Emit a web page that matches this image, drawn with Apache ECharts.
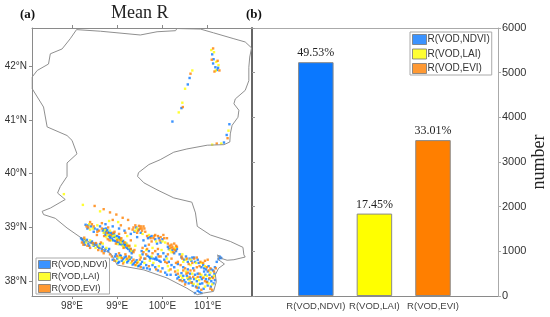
<!DOCTYPE html>
<html>
<head>
<meta charset="utf-8">
<script src="https://cdn.jsdelivr.net/npm/echarts@6/dist/echarts.min.js"></script>
<style>html,body{margin:0;padding:0;background:#fff}#c{width:550px;height:317px}</style>
</head>
<body>
<div id="c"></div>
<script>
const categories = ['R(VOD,NDVI)', 'R(VOD,LAI)', 'R(VOD,EVI)'];
const counts = [5235, 1845, 3490];
const percents = ['49.53%', '17.45%', '33.01%'];
const barColors = ['#0a78ff', '#ffff00', '#ff7f00'];
const lonTicks = [98, 99, 100, 101];
const latTicks = [38, 39, 40, 41, 42];
const numberTicks = [0, 1000, 2000, 3000, 4000, 5000, 6000];

const boundary = [[98.10,42.68],[98.63,42.65],[99.51,42.58],[99.88,42.64],[100.29,42.66],[100.32,42.70],[100.84,42.69],[101.13,42.62],[101.58,42.51],[101.83,42.45],[101.97,42.34],[101.93,42.17],[101.91,41.98],[101.91,41.73],[101.83,41.55],[101.61,41.39],[101.58,41.30],[101.69,41.18],[101.67,41.05],[101.54,40.90],[101.50,40.74],[101.49,40.59],[101.36,40.54],[100.99,40.53],[100.54,40.46],[100.25,40.40],[99.95,40.26],[99.70,40.17],[99.47,40.02],[99.45,39.95],[99.59,39.83],[99.88,39.70],[100.25,39.55],[100.65,39.47],[100.73,39.27],[100.77,39.02],[101.06,38.86],[101.50,38.74],[101.78,38.63],[101.80,38.49],[101.83,38.45],[101.58,38.40],[101.43,38.39],[101.32,38.42],[101.22,38.49],[101.24,38.40],[101.37,38.32],[101.24,38.24],[101.17,38.12],[101.19,37.99],[101.13,37.81],[100.91,37.78],[100.77,37.75],[100.54,37.87],[100.10,38.06],[99.59,38.21],[99.00,38.30],[98.92,38.43],[98.85,38.52],[98.55,38.65],[98.18,38.82],[97.89,38.99],[97.63,39.17],[97.37,39.24],[97.34,39.30],[97.52,39.36],[97.85,39.52],[97.68,39.64],[97.74,39.76],[97.89,39.95],[97.89,40.20],[98.11,40.37],[98.00,40.62],[97.89,40.71],[97.45,40.87],[97.37,41.24],[97.12,41.58],[97.12,41.80],[97.23,41.92],[97.48,42.04],[97.52,42.23],[97.78,42.32],[97.96,42.51],[98.10,42.68]];

const ndviCells = [[98.68,38.94],[98.72,38.90],[98.74,38.86],[98.78,38.95],[98.82,38.84],[98.86,38.90],[98.88,38.78],[98.93,38.88],[98.95,38.75],[99.00,38.84],[99.03,38.72],[99.06,38.79],[99.10,38.68],[99.13,38.75],[99.17,38.64],[99.20,38.70],[99.24,38.60],[99.28,38.56],[99.32,38.52],[98.80,38.89],[98.92,38.82],[99.05,38.69],[99.15,38.70],
[98.70,38.97],[98.75,38.93],[98.81,38.91],[98.84,38.81],[98.89,38.87],[98.91,38.76],[98.96,38.83],[99.01,38.79],[99.04,38.82],[99.07,38.70],[99.11,38.74],[99.14,38.67],[99.18,38.68],[99.21,38.62],[99.25,38.65],[99.29,38.60],[99.34,38.56],[98.75,38.98],[98.87,38.83],[98.99,38.73],
[98.20,38.80],[98.24,38.76],[98.30,38.74],[98.36,38.70],[98.42,38.72],[98.48,38.66],[98.54,38.68],[98.60,38.62],[98.66,38.60],[98.72,38.56],[98.80,38.56],[98.22,38.78],[98.26,38.72],[98.33,38.77],[98.38,38.66],[98.44,38.74],[98.50,38.70],[98.57,38.64],[98.62,38.69],[98.68,38.64],[98.74,38.60],[98.82,38.60],[98.28,38.68],
[98.95,38.46],[99.00,38.42],[99.06,38.48],[99.10,38.38],[99.16,38.44],[99.22,38.35],[99.28,38.41],[99.34,38.31],[99.40,38.36],[99.46,38.28],[99.02,38.34],[99.52,38.32],[99.58,38.25],[99.64,38.30],[98.90,38.40],[98.97,38.50],[99.04,38.36],[99.08,38.47],[99.13,38.41],[99.19,38.46],[99.24,38.38],[99.31,38.44],[99.37,38.33],[99.43,38.39],[99.49,38.29],[99.55,38.36],[99.66,38.24],[99.72,38.22],[99.78,38.30],[99.84,38.26],[99.90,38.20],[100.00,38.24],[100.10,38.12],
[99.67,38.47],[99.71,38.45],[99.75,38.44],[99.80,38.42],[99.84,38.41],[99.88,38.40],[99.93,38.38],[99.96,38.36],[99.73,38.42],[99.86,38.44],
[100.30,38.12],[100.36,38.08],[100.42,38.15],[100.48,38.02],[100.54,38.10],[100.58,37.96],[100.62,38.05],[100.67,37.92],[100.72,38.12],[100.76,38.00],[100.80,37.88],[100.84,38.08],[100.88,37.96],[100.92,38.18],[100.96,38.04],[101.00,37.92],[101.04,38.12],[101.08,38.00],[101.12,38.20],[101.15,38.14],[100.72,37.78],[100.82,37.80],[100.18,38.12],[100.06,38.16],
[100.33,38.05],[100.40,38.02],[100.46,38.10],[100.51,37.98],[100.57,38.04],[100.61,38.14],[100.65,37.98],[100.70,38.04],[100.74,37.90],[100.78,38.14],[100.83,37.95],[100.87,38.04],[100.91,37.86],[100.95,38.12],[100.99,37.99],[101.03,38.04],[101.07,37.90],[101.10,38.08],[101.13,37.96],[101.16,38.02],[100.86,37.78],[100.78,37.82],
[98.36,39.04],[98.50,38.98],[98.62,39.02],[98.74,39.06],[98.90,39.02],[99.04,38.98],[99.16,38.94],[99.30,38.88],[99.44,38.82],[99.58,38.76],[99.72,38.82],[99.88,38.70],[100.00,38.78],[100.14,38.60],[100.26,38.52],[100.38,38.50],[100.52,38.46],[100.66,38.44],[100.78,38.40],[100.90,38.30],[101.02,38.28],[101.28,38.44],[101.20,38.36],[99.54,38.56],[99.70,38.56],[100.04,38.40],[100.20,38.30],[100.60,38.42],[100.72,38.36],[100.86,38.26],[100.96,38.22],[100.32,38.60],[99.96,38.72],[99.48,38.96],[99.62,38.66],
[98.34,38.98],[98.42,39.02],[98.48,38.92],[98.56,38.96],[98.30,39.05],[99.38,38.92],[99.42,39.00],[99.52,38.90],[99.68,38.80],[99.76,38.84],[99.84,38.78],[99.92,38.80],[100.12,38.64],[100.22,38.58],[100.30,38.56],[100.42,38.44],[100.48,38.40],[100.56,38.36],[100.64,38.38],[100.70,38.44],[100.80,38.34],[100.92,38.24],[101.00,38.18],[101.08,38.22],[101.16,38.26],[99.56,38.50],[99.60,38.42],[99.90,38.50],[100.02,38.52],[100.08,38.46],[100.14,38.36],[100.26,38.26],[100.34,38.32],[100.46,38.26],[101.26,38.46],[101.30,38.43],[101.24,38.41],[100.56,38.22],[100.68,38.24],
[101.10,42.22],[101.13,42.13],[101.12,42.05],[101.17,41.98],[101.21,41.93],[101.23,41.97],[100.60,41.78],[100.56,41.66],[100.42,41.22],[100.22,40.97],[101.48,40.92],[101.42,40.72],[101.36,40.58]];

const laiCells = [[98.70,38.90],[98.76,38.82],[98.84,38.94],[98.90,38.84],[98.98,38.80],[99.02,38.77],[99.08,38.72],[99.12,38.66],[99.18,38.72],[99.26,38.63],[98.73,38.95],[98.79,38.86],[98.86,38.76],[98.94,38.85],[99.01,38.69],[99.09,38.77],[99.15,38.63],[99.22,38.68],[99.31,38.57],[98.28,38.78],[98.40,38.76],[98.52,38.62],[98.68,38.70],[98.76,38.62],[98.98,38.38],[99.08,38.44],[99.20,38.40],[99.30,38.34],[99.42,38.30],[99.60,38.34],[99.72,38.38],[99.50,38.48],[99.40,38.66],[99.22,38.84],[99.40,38.94],[99.56,38.88],[99.78,38.62],[99.98,38.58],[100.06,38.72],[100.20,38.54],[100.12,38.28],[100.34,38.20],[100.44,38.06],[100.52,38.18],[100.60,38.01],[100.66,38.14],[100.74,38.05],[100.78,37.94],[100.86,38.12],[100.94,37.90],[100.98,38.10],[101.06,38.05],[101.10,37.94],[100.62,38.30],[100.74,38.34],[100.46,38.36],[98.40,38.96],[98.56,39.04],[98.82,39.12],[99.02,39.10],[98.24,39.42],[98.62,39.30],[97.82,39.62],[98.31,38.72],[98.46,38.68],[98.60,38.66],[99.03,38.44],[99.15,38.36],[99.27,38.44],[99.46,38.36],[100.40,38.10],[100.55,38.06],[100.69,37.95],[100.81,38.02],[100.91,38.08],[101.02,37.96],[101.14,38.10],[100.14,38.20],[99.92,38.28],[99.80,38.34],[100.86,38.34],[100.52,38.40],
[99.44,38.98],[99.70,38.86],[99.86,38.74],[100.00,38.74],[100.16,38.58],[100.28,38.62],[100.44,38.50],[100.62,38.40],[100.94,38.28],[101.06,38.16],[99.64,38.58],[99.76,38.46],[100.10,38.42],[98.46,38.98],[98.38,39.06],
[101.08,42.30],[101.14,42.26],[101.19,42.08],[101.18,41.92],[101.24,42.02],[100.66,41.92],[100.50,41.58],[100.44,41.32],[100.36,41.14],[101.30,40.56],[101.10,40.54],[101.46,40.80]];

const eviCells = [[98.66,38.98],[98.71,38.84],[98.79,38.78],[98.85,38.86],[98.94,38.92],[98.97,38.70],[99.04,38.88],[99.09,38.80],[99.14,38.62],[99.22,38.66],[99.30,38.60],[99.36,38.54],[98.77,38.90],[98.83,38.76],[98.91,38.90],[99.00,38.76],[99.07,38.76],[99.16,38.72],[99.27,38.66],[99.38,38.58],[98.22,38.72],[98.27,38.81],[98.34,38.66],[98.46,38.71],[98.58,38.58],[98.64,38.72],[98.70,38.52],[98.84,38.50],[98.94,38.38],[99.04,38.52],[99.13,38.33],[99.18,38.50],[99.26,38.46],[99.36,38.40],[99.44,38.34],[99.52,38.26],[99.62,38.42],[99.56,38.62],[99.64,38.50],[99.70,38.28],[99.86,38.22],[99.96,38.18],[100.10,38.34],[100.28,38.18],[100.38,38.02],[100.46,38.20],[100.50,37.94],[100.56,38.16],[100.64,37.97],[100.70,38.20],[100.78,38.08],[100.86,37.84],[100.90,38.06],[100.98,37.98],[101.02,38.20],[101.06,37.86],[101.12,38.06],[100.76,38.26],[100.94,38.38],[100.42,38.46],[100.24,38.60],[100.30,38.66],[100.20,38.68],[100.10,38.80],[99.96,38.82],[99.84,38.86],[99.76,38.74],[99.60,38.98],[99.52,39.02],[99.46,38.94],[99.36,39.00],[99.24,39.14],[99.12,39.18],[98.98,39.24],[98.84,39.28],[98.70,39.34],[98.50,39.40],[98.36,39.00],[98.44,39.06],[98.60,38.94],[98.80,39.00],[99.30,38.76],[99.90,38.60],[100.34,38.36],[100.58,38.32],[101.00,38.40],[101.18,38.24],
[99.55,38.94],[99.58,39.02],[99.50,38.98],[99.62,38.92],[100.02,38.86],[99.90,38.84],[99.80,38.80],[100.22,38.64],[100.26,38.70],[100.16,38.66],[100.70,38.42],[100.84,38.36],[98.25,38.68],[98.40,38.62],[98.53,38.71],[98.66,38.56],[98.88,38.46],[99.00,38.47],[99.10,38.43],[99.22,38.42],[99.33,38.37],[99.40,38.30],[99.50,38.40],[100.34,38.14],[100.44,38.00],[100.53,38.14],[100.60,38.08],[100.68,38.08],[100.76,37.88],[100.82,38.14],[100.94,38.00],[101.04,38.06],[101.10,37.84],[99.70,38.68],[99.78,38.52],[99.92,38.46],[100.06,38.36],[100.18,38.22],[98.55,38.86],[99.18,38.90],[99.26,38.98],
[99.40,39.04],[99.44,38.90],[99.48,39.03],[99.54,38.98],[99.34,38.96],[99.66,38.84],[99.74,38.80],[99.82,38.84],[99.94,38.76],[100.04,38.80],[100.12,38.70],[100.18,38.62],[100.28,38.58],[100.32,38.64],[100.24,38.54],[100.44,38.42],[100.54,38.42],[100.66,38.34],[100.76,38.44],[100.82,38.28],[100.90,38.34],[100.98,38.26],[101.06,38.24],[101.14,38.18],[99.58,38.54],[99.66,38.60],[99.52,38.44],[99.84,38.56],[99.96,38.46],[100.12,38.50],[100.20,38.42],[100.30,38.34],[100.40,38.30],[100.50,38.24],[100.62,38.20],[98.32,39.02],[98.40,39.10],[98.48,39.02],[98.56,38.92],[98.66,39.08],[98.90,39.14],[99.08,39.04],
[101.12,42.33],[101.09,42.12],[101.22,42.10],[101.15,41.90],[101.26,41.92],[100.45,41.24],[100.62,41.86],[101.20,40.56],[101.44,40.66]];

const chart = echarts.init(document.getElementById('c'));
const serif = '"Liberation Serif"', sans = '"Liberation Sans"';
const mapLine = { show: true, onZero: false, lineStyle: { color: '#8a8a8a', width: 1 } };
const grayTick = { show: true, length: 3, lineStyle: { color: '#8a8a8a', width: 1 } };

function cells(i, data) {
  return { name: categories[i], type: 'scatter', xAxisIndex: 0, yAxisIndex: 0, data: data,
    symbol: 'rect', symbolSize: 2.4, itemStyle: { color: barColors[i] }, silent: true, z: 2 };
}
function bars(i) {
  return { name: categories[i], type: 'bar', xAxisIndex: 2, yAxisIndex: 2, barWidth: 35.5, barGap: '-100%',
    data: [[i + 1, counts[i]]],
    itemStyle: { color: barColors[i], borderColor: '#8a8a8a', borderWidth: 1 },
    label: { show: true, position: 'top', distance: 3, formatter: percents[i], fontFamily: serif, fontSize: 12, color: '#222' } };
}
function legend(left, top, w, h, gap, size) {
  return { orient: 'vertical', left: left, top: top, itemWidth: w, itemHeight: h, itemGap: gap,
    padding: [2, 2, 1, 2], borderColor: '#aaa', borderWidth: 1, backgroundColor: '#fff',
    icon: 'rect', selectedMode: false, data: categories, z: 10,
    itemStyle: { borderColor: '#777', borderWidth: 1 },
    textStyle: { fontFamily: sans, fontSize: size, color: '#333', padding: [0, 0, 0, -4] } };
}

chart.setOption({
  animation: false,
  backgroundColor: '#fff',
  title: [
    { text: '(a)', left: 15, top: 3, textStyle: { fontFamily: serif, fontWeight: 'bold', fontSize: 13, color: '#111' } },
    { text: 'Mean R', left: 106, top: -1, textStyle: { fontFamily: serif, fontWeight: 'normal', fontSize: 18, color: '#222' } },
    { text: '(b)', left: 241, top: 3, textStyle: { fontFamily: serif, fontWeight: 'bold', fontSize: 13, color: '#111' } }
  ],
  legend: [legend(36, 258, 12, 8, 3, 9), legend(410, 32, 14, 10, 3.5, 10)],
  grid: [
    { left: 32, right: 298, top: 28, bottom: 21 },
    { left: 252, right: 52, top: 28, bottom: 21 }
  ],
  xAxis: [
    { type: 'value', gridIndex: 0, position: 'bottom', min: 97.115, max: 101.98, splitLine: { show: false },
      axisLine: mapLine, axisTick: { ...grayTick, customValues: lonTicks },
      axisLabel: { customValues: lonTicks, formatter: v => v + '°E', fontFamily: sans, fontSize: 10, color: '#333', margin: 5 } },
    { type: 'value', gridIndex: 0, position: 'top', min: 97.115, max: 101.98, splitLine: { show: false },
      axisLine: mapLine, axisTick: { ...grayTick, customValues: lonTicks }, axisLabel: { show: false } },
    { type: 'value', gridIndex: 1, position: 'bottom', min: -0.09, max: 4.11, splitLine: { show: false },
      axisLine: mapLine, axisTick: { show: true, inside: true, length: 2, lineStyle: { color: '#8a8a8a' }, customValues: [1, 2, 3] },
      axisLabel: { customValues: [1, 2, 3], formatter: v => categories[v - 1], fontFamily: sans, fontSize: 9.5, color: '#444', margin: 5 } },
    { type: 'value', gridIndex: 1, position: 'top', min: -0.09, max: 4.11, splitLine: { show: false },
      axisLine: { show: true, onZero: false, lineStyle: { color: '#aaa', width: 1 } }, axisTick: { show: false }, axisLabel: { show: false } }
  ],
  yAxis: [
    { type: 'value', gridIndex: 0, position: 'left', min: 37.725, max: 42.71, splitLine: { show: false },
      axisLine: mapLine, axisTick: { ...grayTick, customValues: latTicks },
      axisLabel: { customValues: latTicks, formatter: v => v + '°N', fontFamily: sans, fontSize: 10, color: '#333', margin: 5 } },
    { type: 'value', gridIndex: 1, position: 'left', min: 0, max: 6000, interval: 1000, splitLine: { show: false },
      axisLine: { show: true, onZero: false, lineStyle: { color: '#666', width: 2 } },
      axisTick: { show: true, inside: true, length: 3, lineStyle: { color: '#999' } }, axisLabel: { show: false } },
    { type: 'value', gridIndex: 1, position: 'right', min: 0, max: 6000, interval: 1000, splitLine: { show: false },
      axisLine: { show: true, onZero: false, lineStyle: { color: '#aaa', width: 1 } },
      axisTick: { show: true, length: 3, lineStyle: { color: '#aaa' } },
      axisLabel: { customValues: numberTicks, formatter: v => String(v), fontFamily: sans, fontSize: 11, color: '#333', margin: 4 },
      name: 'number', nameLocation: 'middle', nameRotate: 90, nameGap: 31,
      nameTextStyle: { fontFamily: serif, fontSize: 18, color: '#222' } }
  ],
  series: [
    cells(0, ndviCells), cells(1, laiCells), cells(2, eviCells),
    { name: 'boundary', type: 'line', xAxisIndex: 0, yAxisIndex: 0, data: boundary, showSymbol: false, silent: true,
      lineStyle: { color: '#8f8f8f', width: 1 }, z: 3 },
    bars(0), bars(1), bars(2)
  ]
});
</script>
</body>
</html>
